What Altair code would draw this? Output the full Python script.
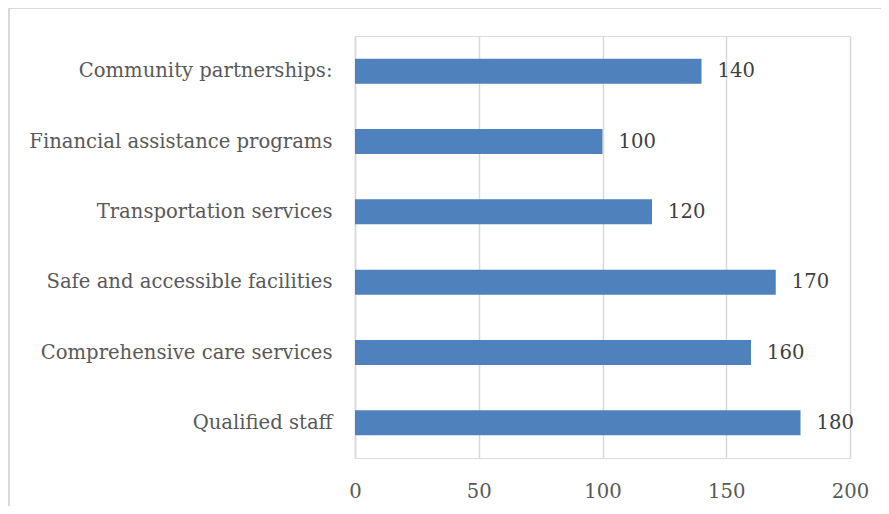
import altair as alt
import pandas as pd

categories = [
    "Community partnerships:",
    "Financial assistance programs",
    "Transportation services",
    "Safe and accessible facilities",
    "Comprehensive care services",
    "Qualified staff",
]
values = [140, 100, 120, 170, 160, 180]
x_ticks = [0, 50, 100, 150, 200]

df = pd.DataFrame({"category": categories, "value": values})

FONT = "DejaVu Serif"
FS = 19.6

y_enc = alt.Y(
    "category:N",
    sort=categories,
    title=None,
    scale=alt.Scale(paddingInner=0.645, paddingOuter=0.3225),
    axis=alt.Axis(
        labelFont=FONT, labelFontSize=FS, labelColor="#595959",
        labelPadding=23, ticks=False, domain=True, domainColor="#d9d9d9",
        domainWidth=1.5, labelLimit=400,
    ),
)
x_enc = alt.X(
    "value:Q",
    title=None,
    scale=alt.Scale(domain=[0, 200], nice=False),
    axis=alt.Axis(
        values=x_ticks, labelFont=FONT, labelFontSize=FS, labelColor="#595959",
        labelPadding=24, labelFlush=False, ticks=False, domain=False, grid=True,
        gridColor="#d9d9d9", gridWidth=1.5,
    ),
)

bars = alt.Chart(df).mark_bar(color="#4F81BD").encode(x=x_enc, y=y_enc)
labels = alt.Chart(df).mark_text(
    align="left", baseline="middle", dx=16, font=FONT, fontSize=FS, color="#404040"
).encode(x="value:Q", y=alt.Y("category:N", sort=categories), text="value:Q")

border = alt.Chart(df).mark_rect(
    fill="white", fillOpacity=0, stroke="#d9d9d9", strokeWidth=2
).encode(
    x=alt.value(-346.5), x2=alt.value(700), y=alt.value(-28.5), y2=alt.value(700)
)

chart = alt.layer(border, bars, labels).properties(
    width=495, height=422,
    autosize=alt.AutoSizeParams(type="none"),
    padding={"left": 347, "top": 28, "right": 31, "bottom": 48},
).configure_view(stroke=None).configure(background="white")

chart.save("out.html", embed_options={"renderer": "svg", "actions": False})
